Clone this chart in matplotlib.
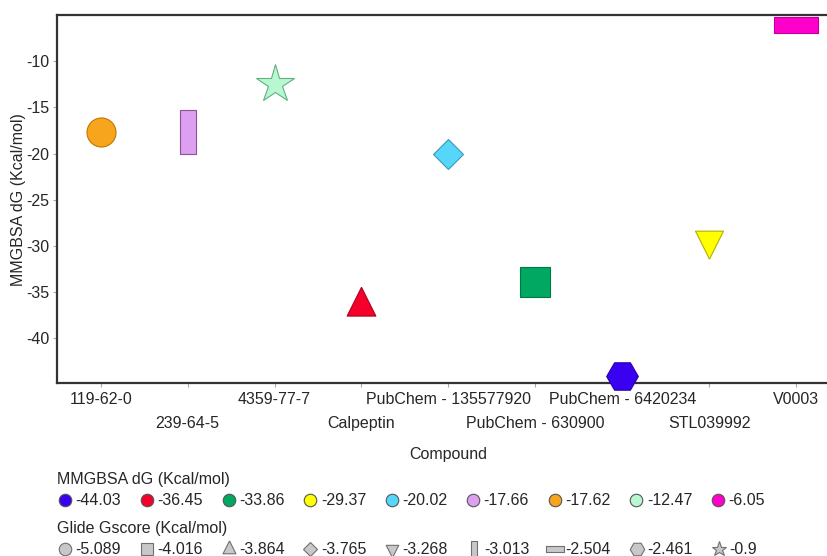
import matplotlib
matplotlib.use("Agg")
import matplotlib.pyplot as plt
from matplotlib.lines import Line2D

plt.rcParams['font.family'] = ['Liberation Sans', 'DejaVu Sans']
plt.rcParams['axes.unicode_minus'] = False

# compounds in axis order
compounds = ["119-62-0", "239-64-5", "4359-77-7", "Calpeptin", "PubChem - 135577920",
             "PubChem - 630900", "PubChem - 6420234", "STL039992", "V0003"]
mmgbsa_dg = [-17.62, -17.66, -12.47, -36.45, -20.02, -33.86, -44.03, -29.37, -6.05]
glide_gscore = [-5.089, -3.013, -0.9, -3.864, -3.765, -4.016, -2.461, -3.268, -2.504]

# colour follows MMGBSA dG, shape follows Glide Gscore
face_colors = ["#F7A51C", "#DDA0F0", "#B8F8D0", "#F5002A", "#55D6FA",
               "#00A862", "#3A00F0", "#FFFF00", "#FF00CC"]
edge_colors = ["#C07800", "#9050A0", "#60B080", "#B00020", "#3A9AB8",
               "#007A45", "#2800B0", "#B0B000", "#C00099"]

tri_up = [(0, 2/3), (-0.5, -1/3), (0.5, -1/3), (0, 2/3)]
tri_down = [(0, -2/3), (-0.5, 1/3), (0.5, 1/3), (0, -2/3)]
tall_rect = [(-0.175, -0.5), (0.175, -0.5), (0.175, 0.5), (-0.175, 0.5), (-0.175, -0.5)]
wide_rect = [(-0.5, -0.18), (0.5, -0.18), (0.5, 0.18), (-0.5, 0.18), (-0.5, -0.18)]

markers = ["o", tall_rect, "*", tri_up, "D", "s", "H", tri_down, wide_rect]
sizes = [20.9, 31.2, 28.5, 27.6, 15.3, 21.3, 22.8, 26.9, 31.7]
legend_sizes = [9.0, 12.0, 11.2, 12.4, 6.8, 9.0, 10.4, 12.0, 12.6]

text_color = "#262626"
fs = 11.5
fig = plt.figure(figsize=(8.28, 5.56), dpi=100)
ax = fig.add_axes([57.3/828, (556-383.3)/556, (839.5-57.3)/828, (383.3-15)/556])

for i, name in enumerate(compounds):
    ax.plot(i, mmgbsa_dg[i], linestyle="none", marker=markers[i], markersize=sizes[i],
            markerfacecolor=face_colors[i], markeredgecolor=edge_colors[i],
            markeredgewidth=0.8, clip_on=False, zorder=3)

ax.set_xlim(-0.5, 8.5)
ax.set_ylim(-44.87, -5.0)
ax.set_yticks([-40, -35, -30, -25, -20, -15, -10])
ax.set_xticks(range(len(compounds)))
ax.set_xticklabels(compounds)

for side in ["left", "bottom", "top", "right"]:
    ax.spines[side].set_color("#333333")
    ax.spines[side].set_linewidth(1.6)

ax.tick_params(axis="both", length=3, width=0.8, color="#aaaaaa",
               labelsize=fs, labelcolor=text_color)
ax.tick_params(axis="y", pad=2.5)
ax.tick_params(axis="x", pad=3.5)
# stagger the long compound names on two rows
for i, tick in enumerate(ax.xaxis.get_major_ticks()):
    if i % 2 == 1:
        tick.set_pad(3.5 + 17.3)

ax.set_xlabel("Compound", fontsize=fs, color=text_color, labelpad=11)
ax.set_ylabel("MMGBSA dG (Kcal/mol)", fontsize=fs, color=text_color, labelpad=0)

# legends: one for the colour scale, one for the shape scale
order_dg = sorted(range(len(compounds)), key=lambda k: mmgbsa_dg[k])
dg_handles = [Line2D([], [], linestyle="none", marker="o", markersize=9.0,
                     markerfacecolor=face_colors[k], markeredgecolor="#555555",
                     markeredgewidth=0.8) for k in order_dg]
dg_labels = [f"{mmgbsa_dg[k]:g}" for k in order_dg]

order_gs = sorted(range(len(compounds)), key=lambda k: glide_gscore[k])
gs_handles = [Line2D([], [], linestyle="none", marker=markers[k], markersize=legend_sizes[k],
                     markerfacecolor="#C8C8C8", markeredgecolor="#707070",
                     markeredgewidth=0.8) for k in order_gs]
gs_labels = [f"{glide_gscore[k]:g}" for k in order_gs]

legend_kw = dict(loc="upper left", ncol=9, frameon=False, fontsize=fs,
                 title_fontsize=fs, handlelength=1.0, handletextpad=0.15,
                 columnspacing=1.12, borderpad=0, borderaxespad=0,
                 labelspacing=0.4, alignment="left", labelcolor=text_color)
leg1 = fig.legend(dg_handles, dg_labels, title="MMGBSA dG (Kcal/mol)",
                  bbox_to_anchor=(57/828, 1 - 472/556), **legend_kw)
leg2 = fig.legend(gs_handles, gs_labels, title="Glide Gscore (Kcal/mol)",
                  bbox_to_anchor=(57/828, 1 - 521/556), **legend_kw)
for leg in (leg1, leg2):
    leg.get_title().set_color(text_color)

fig.savefig("out.png", dpi=100)
